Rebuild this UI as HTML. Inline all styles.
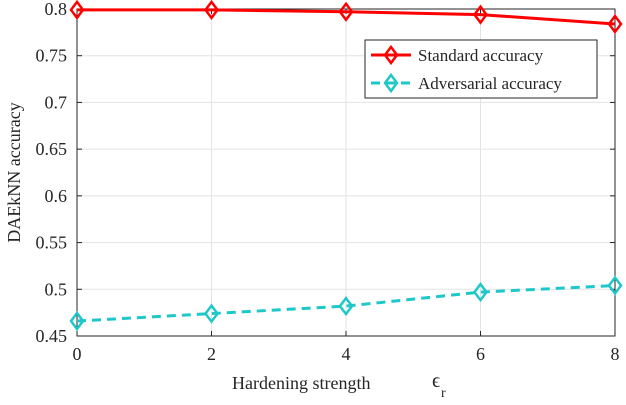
<!DOCTYPE html>
<html><head><meta charset="utf-8"><style>
body{margin:0;background:#fff}
svg text{font-family:"Liberation Serif",serif;fill:#262626}
</style></head><body>
<svg id="chart" width="626" height="400" xmlns="http://www.w3.org/2000/svg"></svg>
<script>
const xValues=[0,2,4,6,8];
const standardAcc=[0.799,0.799,0.797,0.794,0.784];
const adversarialAcc=[0.466,0.474,0.482,0.497,0.504];
const xTicks=[0,2,4,6,8];
const yTicks=[0.45,0.5,0.55,0.6,0.65,0.7,0.75,0.8];
const yTickLabels=["0.45","0.5","0.55","0.6","0.65","0.7","0.75","0.8"];

const L=77,R=615,T=9,B=336;
const sx=v=>L+(v-0)/8*(R-L);
const sy=v=>B-(v-0.45)/0.35*(B-T);
const svg=document.getElementById('chart');
const NS='http://www.w3.org/2000/svg';
function mk(tag,attrs,parent){const e=document.createElementNS(NS,tag);for(const k in attrs)e.setAttribute(k,attrs[k]);(parent||svg).appendChild(e);return e;}

const grid=mk('g',{});


xTicks.forEach(t=>{mk('line',{x1:sx(t),x2:sx(t),y1:T,y2:B,stroke:'#e3e3e3','stroke-width':1},grid);});
yTicks.forEach(t=>{mk('line',{x1:L,x2:R,y1:sy(t),y2:sy(t),stroke:'#e3e3e3','stroke-width':1},grid);});

const frame=mk('rect',{x:L,y:T,width:R-L,height:B-T,fill:'none',stroke:'#262626','stroke-width':1});



xTicks.forEach(t=>{
  mk('line',{x1:sx(t),x2:sx(t),y1:B,y2:B-5,stroke:'#262626'});
  mk('line',{x1:sx(t),x2:sx(t),y1:T,y2:T+5,stroke:'#262626'});
  const tx=mk('text',{x:sx(t),y:B+24,'text-anchor':'middle','font-size':18});
  tx.textContent=t;
  
  
});
yTicks.forEach((t,i)=>{
  mk('line',{x1:L,x2:L+5,y1:sy(t),y2:sy(t),stroke:'#262626'});
  mk('line',{x1:R,x2:R-5,y1:sy(t),y2:sy(t),stroke:'#262626'});
  const tx=mk('text',{x:L-10,y:sy(t)+6,'text-anchor':'end','font-size':18});
  tx.textContent=yTickLabels[i];
  
  
});

const xt=mk('text',{x:232,y:389,'font-size':18});
xt.textContent='Hardening strength';


const eps=mk('text',{x:432,y:387,'font-size':20});
eps.textContent='ϵ';


const sub=mk('text',{x:441,y:397,'font-size':14});
sub.textContent='r';


const yt=mk('text',{x:0,y:0,'font-size':18,'text-anchor':'middle',transform:'translate(20,'+((T+B)/2)+') rotate(-90)'});
yt.textContent='DAEkNN accuracy';



function diamond(x,y,color,g){mk('path',{d:`M${x} ${y-8}L${x+6} ${y}L${x} ${y+8}L${x-6} ${y}Z`,fill:'none',stroke:color,'stroke-width':2.5},g);}
function series(vals,color,dash,name){
  const g=mk('g',{});
  
  
  mk('polyline',{points:vals.map((v,i)=>sx(xValues[i])+','+sy(v)).join(' '),fill:'none',stroke:color,'stroke-width':3,'stroke-dasharray':dash},g);
  vals.forEach((v,i)=>diamond(sx(xValues[i]),sy(v),color,g));
}
series(standardAcc,'#ff0000','none','standard-accuracy-series');
series(adversarialAcc,'#1ec8c8','9,6','adversarial-accuracy-series');

const lg=mk('g',{});


mk('rect',{x:365,y:40,width:232,height:58,fill:'#fff',stroke:'#262626','stroke-width':1},lg);
mk('line',{x1:371,x2:411,y1:55,y2:55,stroke:'#ff0000','stroke-width':3},lg);
diamond(391,55,'#ff0000',lg);
const t1=mk('text',{x:418,y:61,'font-size':17},lg);t1.textContent='Standard accuracy';


mk('line',{x1:371,x2:411,y1:83,y2:83,stroke:'#1ec8c8','stroke-width':3,'stroke-dasharray':'9,6'},lg);
diamond(391,83,'#1ec8c8',lg);
const t2=mk('text',{x:418,y:89,'font-size':17},lg);t2.textContent='Adversarial accuracy';


</script>
</body></html>
